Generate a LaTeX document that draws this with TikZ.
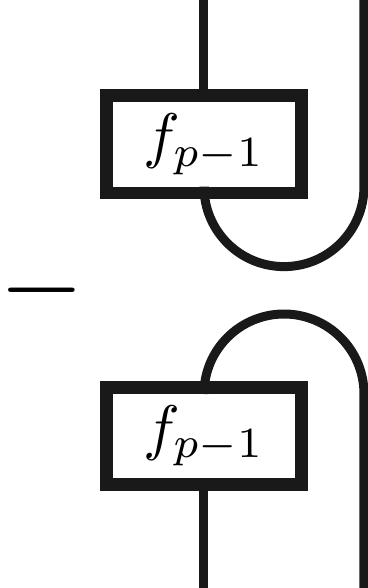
\documentclass[tikz,border=0pt]{standalone}
\usepackage{graphicx}
\usetikzlibrary{positioning}

\begin{document}
\begin{tikzpicture}[fbox/.style={draw=black!90,line width=1.27mm,fill=white,minimum width=19.5mm,minimum height=9.73mm,inner sep=0pt},
  wire/.style={draw=black!90,line width=0.9mm}, sgn/.style={inner sep=0pt}]
 \useasboundingbox (0,0) rectangle (3.68,5.88);
 \node[fbox] at (2.04,4.437) (top) {\scalebox{1.75}{$f_{p-1}$}};
 \node[fbox, below=18.17mm of top] (bot) {\scalebox{1.75}{$f_{p-1}$}};
 \node[sgn] at (0.42,2.98) (minus) {\scalebox{3.1}{$-$}};
 \coordinate (ltop) at (2.04,5.88); \coordinate (rtop) at (3.64,5.88);
 \coordinate (lbot) at (2.04,0); \coordinate (rbot) at (3.64,0);
 \draw[wire] (top.north) -- (ltop);
 \draw[wire] ([yshift=1.27mm]top.south) arc[start angle=180,end angle=360,radius=8mm] -- (rtop);
 \draw[wire] ([yshift=-1.3mm]bot.north) arc[start angle=180,end angle=0,radius=8mm] -- (rbot);
 \draw[wire] (bot.south) -- (lbot);
\end{tikzpicture}
\end{document}
